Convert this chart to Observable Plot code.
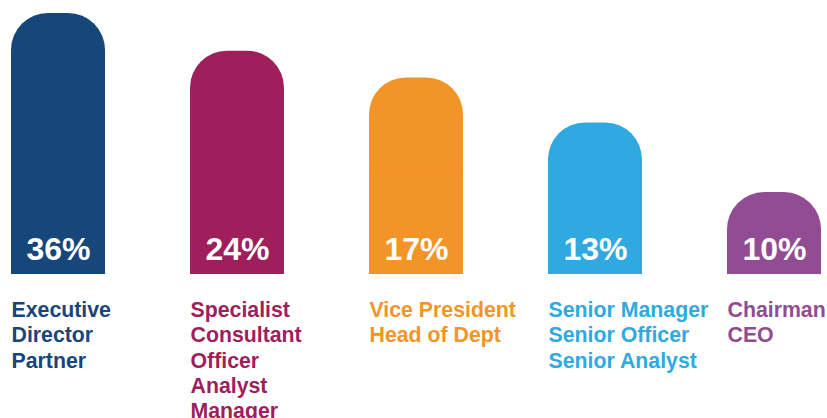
<!DOCTYPE html>
<html>
<head>
<meta charset="utf-8">
<script src="https://cdn.jsdelivr.net/npm/d3@7"></script>
<script src="https://cdn.jsdelivr.net/npm/@observablehq/plot@0.6"></script>
<style>
  html, body { margin: 0; padding: 0; background: #ffffff; }
  #chart svg { display: block; }
</style>
</head>
<body>
<div id="chart"></div>
<script>
// Categories (job levels), shown below each bar
const categories = [
  "Executive\nDirector\nPartner",
  "Specialist\nConsultant\nOfficer\nAnalyst\nManager",
  "Vice President\nHead of Dept",
  "Senior Manager\nSenior Officer\nSenior Analyst",
  "Chairman\nCEO"
];
// Percentages printed inside the bars
const shares = [36, 24, 17, 13, 10];
// Drawn bar heights (in units of the first bar's 36)
const barHeights = [36, 30.8, 27.1, 20.9, 11.3];
// Series colours
const colors = ["#17467a", "#9e1f5c", "#f39428", "#2fa9e0", "#924c93"];

const data = categories.map((c, i) => ({
  category: c,
  share: shares[i],
  h: barHeights[i],
  color: colors[i]
}));

const font = "'Liberation Sans', Arial, Helvetica, sans-serif";

const chart = Plot.plot({
  width: 827,
  height: 418,
  marginTop: 13,
  marginBottom: 144,
  marginLeft: 10,
  marginRight: 6,
  style: { fontFamily: font, background: "#ffffff" },
  x: { domain: categories, paddingInner: 0.476, paddingOuter: 0, axis: null },
  y: { domain: [0, 36], axis: null },
  marks: [
    // rounded-top bars: fully rounded rect + square lower half
    Plot.barY(data, { x: "category", y: "h", fill: "color", rx: 37 }),
    Plot.barY(data, { x: "category", y: d => d.h / 2, fill: "color" }),
    Plot.text(data, {
      x: "category", y: 0, text: d => `${d.share}%`,
      fill: "#ffffff", fontSize: 32, fontWeight: "bold",
      textAnchor: "middle", lineAnchor: "bottom", dy: -15
    }),
    Plot.text(data, {
      x: "category", y: 0, text: "category",
      fill: "color", fontSize: 21.3, fontWeight: "bold",
      textAnchor: "start", lineAnchor: "top", dx: -47, dy: 25,
      lineHeight: 1.18
    })
  ]
});

document.getElementById("chart").appendChild(chart);
</script>
</body>
</html>
